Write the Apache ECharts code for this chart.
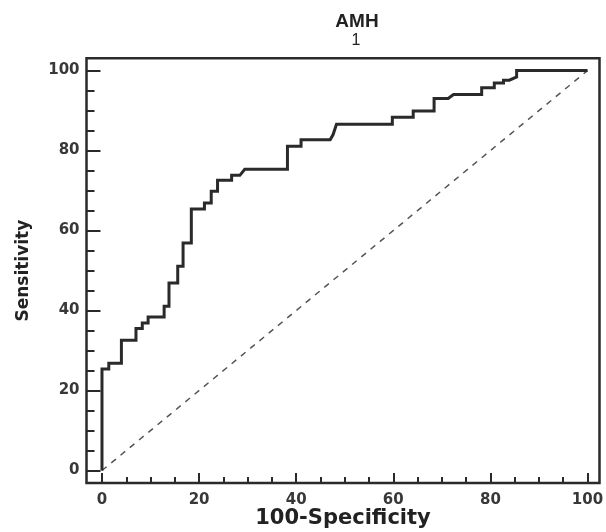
<!DOCTYPE html>
<html>
<head>
<meta charset="utf-8">
<script src="https://cdn.jsdelivr.net/npm/echarts@6/dist/echarts.min.js"></script>
<style>html,body{margin:0;padding:0;background:#fff}#c{width:606px;height:532px}</style>
</head>
<body>
<div id="c"></div>
<script>
// ROC curve vertices (100-Specificity, Sensitivity)
var rocX = [0,0,1.4,1.4,4.0,4.0,7.0,7.0,8.3,8.3,9.5,9.5,12.8,12.8,13.8,13.8,15.6,15.6,16.7,16.7,18.4,18.4,21.1,21.1,22.5,22.5,23.8,23.8,26.7,26.7,28.4,29.4,38.2,38.2,41.0,41.0,47.0,47.6,48.3,59.8,59.8,64.1,64.1,68.4,68.4,71.3,72.4,78.2,78.2,80.8,80.8,82.7,82.7,83.9,83.9,85.4,85.4,100];
var rocY = [0,25.4,25.4,26.8,26.8,32.6,32.6,35.5,35.5,36.9,36.9,38.4,38.4,41.1,41.1,46.9,46.9,51.1,51.1,56.9,56.9,65.4,65.4,66.9,66.9,69.8,69.8,72.6,72.6,73.8,73.8,75.3,75.3,81.1,81.1,82.7,82.7,84.0,86.6,86.6,88.3,88.3,89.9,89.9,93.0,93.0,94.0,94.0,95.7,95.7,96.9,96.9,97.6,97.6,98.0,98.4,100,100];
var refX = [0,100];
var refY = [0,100];
var majorTicks = [0,20,40,60,80,100];
var minorTicks = [5,10,15,25,30,35,45,50,55,65,70,75,85,90,95];
var titleText = 'AMH';
var subText = '1';
var xName = '100-Specificity';
var yName = 'Sensitivity';

function pairs(xs, ys){ return xs.map(function(x,i){ return [x, ys[i]]; }); }

var chart = echarts.init(document.getElementById('c'), null, {renderer:'canvas'});
var font = 'DejaVu Sans, sans-serif';
var tfont = 'Liberation Sans, Arial, sans-serif';
var xMin = -3.19, xMax = 102.47, yMin = -3.12, yMax = 103.07;
function xAx(extra){
  return Object.assign({type:'value', min:xMin, max:xMax, splitLine:{show:false}, axisLine:{show:false, onZero:false}}, extra);
}
function yAx(extra){
  return Object.assign({type:'value', min:yMin, max:yMax, splitLine:{show:false}, axisLine:{show:false, onZero:false}}, extra);
}
chart.setOption({
  animation:false,
  backgroundColor:'#fff',
  title:[
    {text:titleText, left:352, top:7, textAlign:'center', textStyle:{fontFamily:tfont, fontSize:19, fontWeight:'bold', color:'#222'}},
    {text:subText, left:351, top:28, textAlign:'center', textStyle:{fontFamily:tfont, fontSize:16, fontWeight:'normal', color:'#222'}}
  ],
  grid:{left:86.5, top:58.3, right:6.5, bottom:49, containLabel:false, outerBoundsMode:'none',
    show:true, borderColor:'#2a2a2a', borderWidth:2.5, backgroundColor:'#fff'},
  xAxis:[
    xAx({position:'bottom', name:xName, nameLocation:'middle', nameGap:25, nameMoveOverlap:false,
      nameTextStyle:{fontFamily:font, fontSize:21, fontWeight:'bold', color:'#222'},
      axisTick:{show:true, inside:true, length:10, customValues:majorTicks, lineStyle:{color:'#2a2a2a', width:2}},
      axisLabel:{show:true, customValues:majorTicks, margin:10, fontFamily:font, fontSize:15, fontWeight:'bold', color:'#383838'}}),
    xAx({position:'bottom',
      axisTick:{show:true, inside:true, length:6, customValues:minorTicks, lineStyle:{color:'#2a2a2a', width:2}},
      axisLabel:{show:false}})
  ],
  yAxis:[
    yAx({position:'left', name:yName, nameLocation:'middle', nameGap:54, nameRotate:90, nameMoveOverlap:false,
      nameTextStyle:{fontFamily:font, fontSize:17, fontWeight:'bold', color:'#222'},
      axisTick:{show:true, inside:true, length:14, customValues:majorTicks, lineStyle:{color:'#2a2a2a', width:2}},
      axisLabel:{show:true, customValues:majorTicks, margin:7, fontFamily:font, fontSize:15, fontWeight:'bold', color:'#383838'}}),
    yAx({position:'left',
      axisTick:{show:true, inside:true, length:8, customValues:minorTicks, lineStyle:{color:'#2a2a2a', width:2}},
      axisLabel:{show:false}})
  ],
  series:[
    {type:'line', data:pairs(refX, refY), symbol:'none', xAxisIndex:0, yAxisIndex:0,
      lineStyle:{color:'#555', width:1.5, type:[6,6]}, z:2},
    {type:'line', data:pairs(rocX, rocY), symbol:'none', xAxisIndex:0, yAxisIndex:0,
      lineStyle:{color:'#2a2a2a', width:3, join:'miter', cap:'butt'}, z:3}
  ]
});
</script>
</body>
</html>
